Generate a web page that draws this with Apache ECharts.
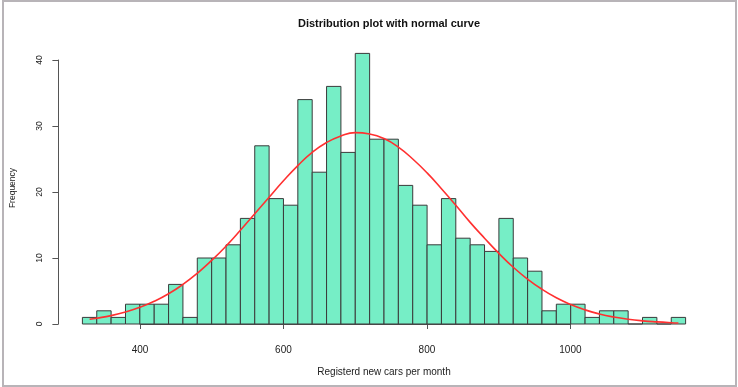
<!DOCTYPE html>
<html>
<head>
<meta charset="utf-8">
<script src="https://cdn.jsdelivr.net/npm/echarts@6/dist/echarts.min.js"></script>
<style>
  html, body { margin: 0; padding: 0; background: #fff; }
  #chart { width: 738px; height: 387px; }
</style>
</head>
<body>
<div id="chart"></div>
<script>
// histogram bins (left edge, width 20)
const binLefts = [
  320, 340, 360, 380, 400, 420, 440, 460, 480, 500, 520, 540, 560, 580,
  600, 620, 640, 660, 680, 700, 720, 740, 760, 780, 800, 820, 840, 860,
  880, 900, 920, 940, 960, 980, 1000, 1020, 1040, 1060, 1080, 1100, 1120, 1140
];
const binWidth = 20;
const counts = [
  1, 2, 1, 3, 3, 3, 6, 1, 10, 10, 12, 16, 27, 19,
  18, 34, 23, 36, 26, 41, 28, 28, 21, 18, 12, 19, 13, 12,
  11, 16, 10, 8, 2, 3, 3, 1, 2, 2, 0, 1, 0, 1
];

// normal curve
const curveX = [
  330, 340, 360, 380, 400, 420, 440, 460, 480, 500, 520, 540, 560, 580, 600,
  620, 640, 660, 680, 700, 720, 740, 760, 780, 800, 820, 840, 860, 880, 900,
  920, 940, 960, 980, 1000, 1020, 1040, 1060, 1080, 1100, 1120, 1140, 1150
];
const curveY = [
  0.72, 0.88, 1.27, 1.81, 2.52, 3.44, 4.58, 6.0, 7.68, 9.63, 11.8, 14.2, 16.7, 19.2, 21.7,
  24.0, 26.0, 27.5, 28.5, 29.0, 28.8, 28.1, 26.8, 25.0, 22.9, 20.5, 18.0, 15.4, 13.0, 10.7,
  8.6, 6.8, 5.26, 3.98, 2.95, 2.14, 1.52, 1.06, 0.72, 0.48, 0.32, 0.2, 0.16
];

const xTicks = [400, 600, 800, 1000];
const yTicks = [0, 10, 20, 30, 40];

const chart = echarts.init(document.getElementById("chart"), null, { renderer: "canvas" });

const histData = binLefts.map((l, i) => [l, l + binWidth, counts[i]]);
const curveData = curveX.map((x, i) => [x, curveY[i]]);

const font = "Liberation Sans, Arial, sans-serif";

const option = {
  animation: false,
  backgroundColor: "#fff",
  title: {
    text: "Distribution plot with normal curve",
    left: 384,
    top: 13,
    textAlign: "center",
    textStyle: { fontFamily: font, fontSize: 11, fontWeight: "bold", color: "#111" },
  },
  grid: [
    // bars: 320..1160 on x, 0..40 on y
    { left: 82.4, right: 52.4, top: 60, bottom: 63 },
    // x axis decoration: 400..1000
    { left: 140, right: 167.6, top: 60, bottom: 63 },
  ],
  xAxis: [
    {
      type: "value",
      gridIndex: 0,
      min: 320,
      max: 1160,
      show: false,
    },
    {
      type: "value",
      gridIndex: 1,
      min: 400,
      max: 1000,
      interval: 200,
      offset: 11.3,
      axisLine: { show: true, lineStyle: { color: "#555", width: 1 } },
      axisTick: { show: true, length: 5, lineStyle: { color: "#555" } },
      axisLabel: {
        margin: 10,
        fontFamily: font,
        fontSize: 10,
        color: "#222",
        customValues: xTicks,
        formatter: (v) => String(v),
      },
      splitLine: { show: false },
    },
  ],
  yAxis: [
    {
      type: "value",
      gridIndex: 0,
      min: 0,
      max: 40,
      interval: 10,
      offset: 24,
      axisLine: { show: true, lineStyle: { color: "#555", width: 1 } },
      axisTick: { show: true, length: 6, lineStyle: { color: "#555" } },
      axisLabel: {
        rotate: 90,
        margin: 14,
        fontFamily: font,
        fontSize: 8.5,
        color: "#222",
        customValues: yTicks,
      },
      splitLine: { show: false },
    },
    { type: "value", gridIndex: 1, min: 0, max: 40, show: false },
  ],
  graphic: [
    {
      type: "rect",
      shape: { x: 3, y: 1, width: 733, height: 385 },
      style: { fill: null, stroke: "#b8b4b8", lineWidth: 2 },
      z: 100,
    },
    {
      type: "text",
      x: 384,
      y: 372,
      style: {
        text: "Registerd new cars per month",
        font: "10px " + font,
        fill: "#222",
        textAlign: "center",
        textVerticalAlign: "middle",
      },
    },
    {
      type: "text",
      x: 13,
      y: 188,
      rotation: Math.PI / 2,
      style: {
        text: "Frequency",
        font: "8.5px " + font,
        fill: "#222",
        textAlign: "center",
        textVerticalAlign: "middle",
      },
    },
  ],
  series: [
    {
      type: "custom",
      xAxisIndex: 0,
      yAxisIndex: 0,
      clip: false,
      data: histData,
      renderItem: function (params, api) {
        const p0 = api.coord([api.value(0), 0]);
        const p1 = api.coord([api.value(1), api.value(2)]);
        return {
          type: "rect",
          shape: { x: p0[0], y: p1[1], width: p1[0] - p0[0], height: p0[1] - p1[1] },
          style: { fill: "#76EEC6", stroke: "#3a3a3a", lineWidth: 1 },
        };
      },
    },
    {
      type: "line",
      xAxisIndex: 0,
      yAxisIndex: 0,
      data: curveData,
      smooth: true,
      symbol: "none",
      clip: false,
      lineStyle: { color: "#ff3030", width: 1.6 },
      z: 5,
    },
  ],
};

chart.setOption(option);
</script>
</body>
</html>
